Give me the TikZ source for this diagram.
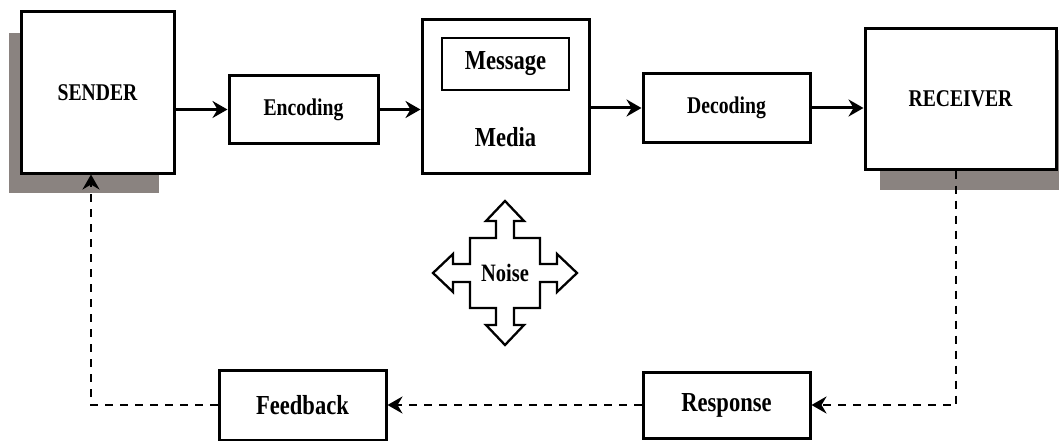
\documentclass[tikz,border=0pt]{standalone}
\usepackage{fontspec}
\setmainfont[FakeStretch=0.82]{Liberation Serif}
\usetikzlibrary{arrows.meta}
\definecolor{shadowgray}{RGB}{138,131,128}
\tikzset{
  box/.style={draw=black, line width=3pt, fill=white, inner sep=0pt, font=\bfseries\fontsize{24}{28}\selectfont},
  bigtxt/.style={font=\bfseries\fontsize{27.5}{32}\selectfont},
  shadowfill/.style={fill=shadowgray, draw=none},
  flow/.style={line width=3pt, -{Stealth[length=15pt,width=17pt,inset=5pt]}},
  fback/.style={line width=2.8pt, dash pattern=on 8pt off 7pt, -{Stealth[length=15pt,width=17pt,inset=5pt]}},
  noiseshape/.style={draw=black, line width=2.3pt, fill=white, line join=miter}
}
\begin{document}
\begin{tikzpicture}[x=1pt,y=-1pt]
\useasboundingbox (0,0) rectangle (1059,441);
% shadows
\fill[shadowfill] (9,33) rectangle (159,193);
\fill[shadowfill] (880,50) rectangle (1059,190);
% boxes
\node[box, minimum width=153pt, minimum height=161pt] (sender) at (97.5,92.5) {SENDER};
\node[box, minimum width=149pt, minimum height=67pt] (enc) at (303.5,109.5) {Encoding};
\node[box, minimum width=167pt, minimum height=153pt] (media) at (505.5,96.5) {};
\node[box, line width=2.8pt, bigtxt, minimum width=127pt, minimum height=52pt] (msg) at (505.5,64) {Message};
\node[bigtxt] (mediatxt) at (505.5,137) {Media};
\node[box, minimum width=167pt, minimum height=68pt] (dec) at (726.5,108) {Decoding};
\node[box, minimum width=191pt, minimum height=140pt] (recv) at (960.5,99) {RECEIVER};
\node[box, bigtxt, minimum width=167pt, minimum height=66pt] (resp) at (726.5,405) {Response};
\node[box, bigtxt, minimum width=167pt, minimum height=70pt] (fb) at (302.5,405) {Feedback};
% noise
\draw[noiseshape] (505,273)
  ++(0,-72) -- ++(19,20) -- ++(-10,0) -- ++(0,17) -- ++(26,0) -- ++(0,26)
  -- ++(17,0) -- ++(0,-10) -- ++(20,19) -- ++(-20,19) -- ++(0,-10) -- ++(-17,0)
  -- ++(0,26) -- ++(-26,0) -- ++(0,17) -- ++(10,0) -- ++(-19,20) -- ++(-19,-20)
  -- ++(10,0) -- ++(0,-17) -- ++(-26,0) -- ++(0,-26) -- ++(-17,0) -- ++(0,10)
  -- ++(-20,-19) -- ++(20,-19) -- ++(0,10) -- ++(17,0) -- ++(0,-26) -- ++(26,0)
  -- ++(0,-17) -- ++(-10,0) -- cycle;
\node[font=\bfseries\fontsize{25}{30}\selectfont] (noise) at (505,273) {Noise};
% forward flow
\draw[flow] (sender.east |- enc) -- (enc.west);
\draw[flow] (enc.east) -- (enc.east -| media.west);
\draw[flow] (media.east |- dec) -- (dec.west);
\draw[flow] (dec.east) -- (dec.east -| recv.west);
% feedback loop
\coordinate (c1) at (956,405);
\coordinate (c2) at (91,405);
\draw[fback] (recv.south -| c1) -- (c1) -- (resp.east);
\draw[fback] (resp.west) -- (fb.east);
\draw[fback] (fb.west) -- (c2) -- (c2 |- sender.south);
\end{tikzpicture}
\end{document}
